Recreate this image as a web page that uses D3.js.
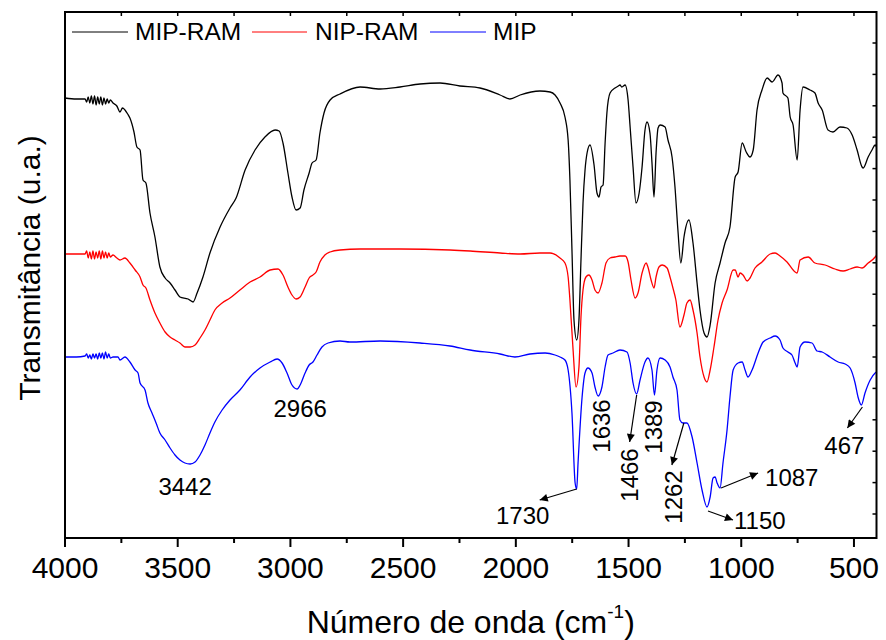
<!DOCTYPE html>
<html><head><meta charset="utf-8">
<script src="https://cdn.jsdelivr.net/npm/d3@7/dist/d3.min.js"></script>
<style>body{margin:0;background:#fff} text{font-family:Arial,"Liberation Sans",sans-serif;fill:#000}</style>
</head><body><svg id="c" width="886" height="640"></svg>
<script>
// ---- DATA (wavenumber cm-1, transmittance a.u.) ----
const seriesNames = ["MIP-RAM", "NIP-RAM", "MIP"];
const mipRam = [[4000,440],[3950,439],[3911,439],[3904,436],[3897,441],[3890,435],[3883,442],[3876,434],[3869,442],[3862,433],[3855,441],[3848,434],[3841,441],[3834,433],[3827,440],[3820,434],[3813,439],[3806,435],[3799,438],[3787,435],[3770,432],[3756,426],[3745,430],[3734,428],[3722,424],[3712,420],[3694,406],[3681,391],[3667,388],[3654,358],[3641,355],[3623,325],[3601,301],[3579,271],[3556,260],[3534,255],[3512,248],[3490,241],[3454,239],[3432,236],[3414,245],[3388,261],[3357,285],[3312,311],[3268,330],[3241,340],[3201,368],[3157,388],[3113,401],[3068,408],[3050,407],[3033,395],[3011,365],[2993,341],[2975,328],[2957,330],[2940,348],[2917,365],[2904,375],[2886,378],[2869,405],[2851,425],[2824,438],[2780,444],[2691,451],[2602,449],[2514,451],[2425,454],[2336,455],[2248,452],[2159,450],[2070,443],[2026,439],[1981,443],[1893,447],[1848,446],[1826,443],[1804,435],[1782,421],[1768,398],[1760,358],[1751,288],[1742,218],[1730,198],[1720,218],[1711,278],[1702,335],[1693,368],[1684,385],[1671,393],[1653,373],[1640,345],[1631,341],[1622,351],[1613,353],[1604,395],[1596,425],[1582,445],[1560,450],[1545,452],[1538,453],[1530,451],[1515,453],[1502,438],[1493,411],[1480,371],[1467,335],[1453,345],[1440,371],[1427,408],[1418,416],[1405,405],[1396,375],[1387,341],[1378,385],[1369,410],[1360,413],[1338,411],[1325,398],[1307,381],[1294,351],[1281,308],[1268,275],[1254,301],[1232,318],[1214,295],[1196,255],[1183,228],[1165,205],[1152,201],[1138,213],[1116,255],[1094,275],[1072,295],[1050,311],[1027,361],[1014,366],[996,395],[978,386],[961,381],[947,388],[930,428],[908,448],[885,460],[863,456],[837,463],[819,455],[815,445],[793,440],[783,421],[770,413],[752,378],[739,428],[726,451],[695,448],[673,445],[659,435],[641,428],[615,408],[593,406],[562,411],[531,410],[508,403],[486,388],[464,371],[459,370],[437,381],[420,388],[406,393],[400,391]];
const nipRam = [[4000,284],[3950,284],[3911,284],[3904,287],[3897,280],[3890,286],[3883,279],[3876,287],[3869,279],[3862,286],[3855,280],[3848,287],[3841,279],[3834,287],[3827,280],[3820,286],[3813,280],[3806,285],[3799,281],[3787,283],[3770,280],[3756,278],[3734,280],[3712,275],[3689,268],[3667,261],[3654,253],[3641,250],[3623,238],[3601,225],[3579,215],[3556,206],[3534,201],[3512,198],[3490,195],[3468,191],[3445,191],[3423,193],[3401,200],[3379,208],[3357,218],[3335,228],[3303,235],[3268,240],[3224,248],[3179,256],[3135,261],[3090,268],[3055,269],[3033,263],[3011,251],[2993,243],[2975,239],[2957,241],[2935,251],[2917,260],[2900,263],[2886,266],[2869,276],[2847,283],[2824,286],[2780,288],[2691,289],[2514,289],[2292,288],[2203,287],[2070,285],[1981,284],[1893,285],[1848,285],[1804,280],[1782,275],[1768,261],[1760,238],[1746,188],[1733,151],[1720,171],[1711,221],[1702,248],[1689,261],[1676,263],[1662,258],[1649,248],[1635,245],[1618,255],[1600,275],[1582,280],[1560,281],[1538,282],[1515,282],[1502,276],[1489,258],[1471,240],[1458,245],[1440,265],[1422,275],[1414,271],[1400,258],[1387,250],[1378,261],[1365,271],[1351,273],[1329,270],[1316,261],[1303,250],[1290,238],[1272,211],[1254,223],[1241,235],[1227,238],[1214,228],[1196,205],[1183,181],[1165,161],[1152,156],[1138,168],[1121,191],[1103,218],[1085,235],[1063,248],[1036,268],[1027,268],[1014,261],[1005,265],[992,263],[974,257],[961,260],[939,270],[908,276],[872,284],[850,285],[828,282],[797,276],[761,266],[752,265],[739,278],[703,281],[673,275],[628,273],[584,269],[548,267],[517,269],[486,271],[464,270],[437,275],[406,281],[400,283]];
const mip = [[4000,181],[3950,181],[3911,182],[3904,184],[3897,180],[3890,183],[3883,179],[3876,184],[3869,180],[3862,184],[3855,179],[3848,185],[3841,180],[3834,185],[3827,179],[3820,186],[3813,180],[3806,184],[3799,180],[3787,181],[3765,181],[3756,178],[3734,181],[3712,176],[3689,168],[3676,165],[3667,155],[3645,148],[3632,135],[3614,125],[3596,115],[3579,105],[3556,98],[3534,90],[3512,83],[3490,78],[3468,75],[3445,74],[3423,76],[3401,83],[3379,93],[3357,105],[3335,116],[3303,128],[3268,138],[3224,148],[3179,161],[3135,170],[3090,176],[3059,179],[3037,175],[3015,165],[2993,153],[2970,149],[2957,153],[2935,165],[2917,173],[2900,176],[2882,183],[2860,191],[2833,195],[2780,197],[2736,196],[2602,197],[2425,195],[2292,192],[2203,188],[2070,184],[2004,181],[1937,184],[1870,185],[1826,183],[1804,181],[1782,178],[1768,168],[1751,125],[1737,55],[1730,49],[1724,75],[1706,141],[1693,165],[1680,170],[1662,165],[1649,151],[1635,142],[1618,151],[1604,171],[1591,183],[1569,185],[1538,188],[1507,186],[1493,175],[1480,155],[1464,144],[1449,158],[1427,176],[1414,180],[1396,168],[1385,143],[1374,168],[1360,180],[1338,178],[1316,171],[1303,161],[1285,148],[1272,118],[1259,115],[1241,115],[1218,101],[1196,75],[1174,48],[1152,31],[1138,41],[1125,60],[1116,61],[1107,55],[1094,50],[1081,75],[1063,108],[1050,141],[1036,168],[1014,175],[996,176],[983,168],[970,161],[952,168],[925,185],[903,196],[872,200],[850,202],[828,198],[815,190],[793,186],[775,183],[761,175],[752,171],[739,191],[717,196],[686,195],[664,187],[641,186],[606,181],[570,176],[539,174],[517,170],[495,155],[482,141],[467,133],[451,145],[428,158],[406,165],[400,166]];
const xTicks = [4000, 3500, 3000, 2500, 2000, 1500, 1000, 500];
const xMinorTicks = [3750, 3250, 2750, 2250, 1750, 1250, 750];
// peak label text and the wavenumber of the MIP data point each one points to
const peakLabels = ["3442", "2966", "1730", "1636", "1466", "1389", "1262", "1150", "1087", "467"];
const peakPoints = [3445, 2970, 1730, 1635, 1464, 1385, 1259, 1152, 1094, 467];
const xTitle = "Número de onda (cm";
const yTitle = "Transmitância (u.a.)";

// ---- LAYOUT ----
const colors = ["#000000", "#ff0000", "#0000ff"];
const L = 65, R = 876.5, T = 12, B = 538;
const svg = d3.select("#c");
const x = d3.scaleLinear().domain([4000, 400]).range([L, R]);
const y = d3.scaleLinear().domain([0, 526]).range([B, T]);
const line = d3.line().x(d => x(d[0])).y(d => y(d[1])).curve(d3.curveMonotoneX);

const defs = svg.append("defs");
defs.append("marker").attr("id", "ah").attr("viewBox", "0 0 10 10").attr("refX", 10).attr("refY", 5)
  .attr("markerWidth", 11).attr("markerHeight", 8).attr("markerUnits", "userSpaceOnUse").attr("orient", "auto")
  .append("path").attr("d", "M0,0 L10,5 L0,10 Z").attr("fill", "#000");

// series
[mipRam, nipRam, mip].forEach((s, i) => {
  svg.append("path").datum(s).attr("d", line).attr("fill", "none")
    .attr("stroke", colors[i]).attr("stroke-width", 1.3).attr("stroke-linejoin", "round");
});

// frame
svg.append("rect").attr("x", L).attr("y", T).attr("width", R - L).attr("height", B - T)
  .attr("fill", "none").attr("stroke", "#000").attr("stroke-width", 2);

// bottom axis
const gx = svg.append("g");
xTicks.forEach(t => {
  gx.append("line").attr("x1", x(t)).attr("x2", x(t)).attr("y1", B).attr("y2", B + 9).attr("stroke", "#000").attr("stroke-width", 2);
  gx.append("text").attr("x", x(t)).attr("y", B + 40).attr("text-anchor", "middle").attr("font-size", 30).text(t);
});
xMinorTicks.forEach(t => {
  gx.append("line").attr("x1", x(t)).attr("x2", x(t)).attr("y1", B).attr("y2", B + 5).attr("stroke", "#000").attr("stroke-width", 2);
});
// top ticks (inward)
xTicks.concat(xMinorTicks).forEach(t => {
  svg.append("line").attr("x1", x(t)).attr("x2", x(t)).attr("y1", T).attr("y2", T + 4).attr("stroke", "#000").attr("stroke-width", 1.5);
});
// right ticks (inward)
d3.range(0, 17).forEach(k => {
  const yy = 43 + k * 31.4;
  if (yy < B - 2) svg.append("line").attr("x1", R).attr("x2", R - 4).attr("y1", yy).attr("y2", yy).attr("stroke", "#000").attr("stroke-width", 1.5);
});

// axis titles
const xt = svg.append("text").attr("x", (L + R) / 2).attr("y", 633).attr("text-anchor", "middle").attr("font-size", 32);
xt.append("tspan").text(xTitle);
xt.append("tspan").attr("font-size", 19).attr("dy", -15).text("-1");
xt.append("tspan").attr("dy", 15).text(")");
svg.append("text").attr("transform", "translate(40,268) rotate(-90)").attr("text-anchor", "middle").attr("font-size", 30).text(yTitle);

// legend
const legX = [[72, 128, 135], [252, 307, 315], [430, 486, 493]];
seriesNames.forEach((n, i) => {
  svg.append("line").attr("x1", legX[i][0]).attr("x2", legX[i][1]).attr("y1", 32).attr("y2", 32).attr("stroke", colors[i]).attr("stroke-width", 1);
  svg.append("text").attr("x", legX[i][2]).attr("y", 40).attr("font-size", 24.5).text(n);
});

// annotations
const ann = svg.append("g");
function hText(t, xx, yy, anchor) { ann.append("text").attr("x", xx).attr("y", yy).attr("text-anchor", anchor).attr("font-size", 24).text(t); }
function vText(t, xx, yy) { ann.append("text").attr("transform", `translate(${xx},${yy}) rotate(-90)`).attr("text-anchor", "middle").attr("font-size", 24).text(t); }
function arrow(x1, y1, x2, y2) { ann.append("line").attr("x1", x1).attr("y1", y1).attr("x2", x2).attr("y2", y2).attr("stroke", "#000").attr("stroke-width", 1.2).attr("marker-end", "url(#ah)"); }
const P = peakPoints.map(wn => { const p = mip.find(d => d[0] === wn); return [x(p[0]), y(p[1])]; });

hText(peakLabels[0], P[0][0] - 5, 495, "middle");
hText(peakLabels[1], P[1][0] + 3, 417, "middle");
hText(peakLabels[2], P[2][0] - 54, 524, "middle");
arrow(P[2][0], P[2][1], P[2][0] - 37, P[2][1] + 11);
vText(peakLabels[3], P[3][0] + 12, 426);
vText(peakLabels[4], P[4][0] + 1, 475);
arrow(P[4][0], P[4][1] + 1, P[4][0] - 7, P[4][1] + 48);
vText(peakLabels[5], P[5][0] + 8, 427);
vText(peakLabels[6], P[6][0] - 1, 497);
arrow(P[6][0] + 1, P[6][1], P[6][0] - 11, P[6][1] + 42);
hText(peakLabels[7], P[7][0] + 27, 529, "start");
arrow(P[7][0] + 1, P[7][1] + 4, P[7][0] + 26, P[7][1] + 13);
hText(peakLabels[8], P[8][0] + 45, 486, "start");
arrow(P[8][0] + 1, P[8][1], P[8][0] + 38, P[8][1] - 15);
hText(peakLabels[9], P[9][0] - 17, 454, "middle");
arrow(P[9][0] + 1, P[9][1] + 2, P[9][0] - 14, P[9][1] + 23);
</script></body></html>
